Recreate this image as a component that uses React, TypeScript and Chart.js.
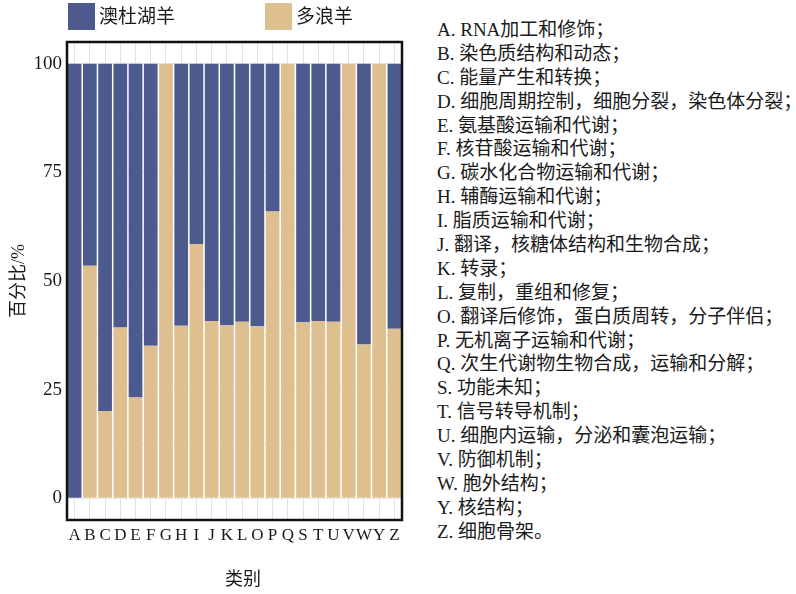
import { useEffect, useRef } from "react";
import { Chart, registerables } from "chart.js";

Chart.register(...registerables);

// COG functional categories
const categories = ["A", "B", "C", "D", "E", "F", "G", "H", "I", "J", "K", "L", "O", "P", "Q", "S", "T", "U", "V", "W", "Y", "Z"];

// Share of genes (%) per category for each breed
const duolangShare = [0, 53.5, 20.1, 39.3, 23.2, 35.1, 100, 39.7, 58.5, 40.8, 39.8, 40.6, 39.6, 66.0, 100, 40.5, 40.8, 40.6, 100, 35.4, 100, 39.0];
const aoduShare = [100, 46.5, 79.9, 60.7, 76.8, 64.9, 0, 60.3, 41.5, 59.2, 60.2, 59.4, 60.4, 34.0, 0, 59.5, 59.2, 59.4, 0, 64.6, 0, 61.0];

const seriesNames = ["澳杜湖羊", "多浪羊"];
const yTickValues = [0, 12.5, 25, 37.5, 50, 62.5, 75, 87.5, 100];

const descriptions = [
  "A. RNA加工和修饰；",
  "B. 染色质结构和动态；",
  "C. 能量产生和转换；",
  "D. 细胞周期控制，细胞分裂，染色体分裂；",
  "E. 氨基酸运输和代谢；",
  "F. 核苷酸运输和代谢；",
  "G. 碳水化合物运输和代谢；",
  "H. 辅酶运输和代谢；",
  "I. 脂质运输和代谢；",
  "J. 翻译，核糖体结构和生物合成；",
  "K. 转录；",
  "L. 复制，重组和修复；",
  "O. 翻译后修饰，蛋白质周转，分子伴侣；",
  "P. 无机离子运输和代谢；",
  "Q. 次生代谢物生物合成，运输和分解；",
  "S. 功能未知；",
  "T. 信号转导机制；",
  "U. 细胞内运输，分泌和囊泡运输；",
  "V. 防御机制；",
  "W. 胞外结构；",
  "Y. 核结构；",
  "Z. 细胞骨架。",
];

const BLUE = "#4c5a8e";
const TAN = "#ddbf90";
const TEXT = "#1a1a1a";
const FONT = "'Liberation Serif', 'Times New Roman', 'Noto Sans CJK SC', serif";

// black box drawn around the plotting panel
const panelFrame = {
  id: "panelFrame",
  afterDraw(chart: any) {
    const { ctx, chartArea: a } = chart;
    ctx.save();
    ctx.strokeStyle = "#111111";
    ctx.lineWidth = 2.5;
    ctx.strokeRect(a.left, a.top, a.right - a.left, a.bottom - a.top);
    ctx.restore();
  },
};

function BarChart() {
  const ref = useRef<HTMLCanvasElement | null>(null);

  useEffect(() => {
    if (!ref.current) return;
    const chart = new Chart(ref.current, {
      type: "bar",
      data: {
        labels: categories,
        datasets: [
          {
            label: seriesNames[1],
            data: duolangShare,
            backgroundColor: TAN,
            borderWidth: 0,
            barPercentage: 0.9,
            categoryPercentage: 1,
          },
          {
            label: seriesNames[0],
            data: aoduShare,
            backgroundColor: BLUE,
            borderWidth: 0,
            barPercentage: 0.9,
            categoryPercentage: 1,
          },
        ],
      },
      options: {
        animation: false,
        responsive: false,
        maintainAspectRatio: false,
        layout: { padding: { left: 0, top: 42, right: 8, bottom: 0 } },
        plugins: {
          legend: { display: false },
          tooltip: { enabled: false },
        },
        scales: {
          x: {
            stacked: true,
            offset: true,
            grid: { offset: false, color: "#e2e2e2", lineWidth: 1, drawTicks: false },
            border: { display: false },
            ticks: {
              color: TEXT,
              font: { family: FONT, size: 17 },
              padding: 5,
              autoSkip: false,
              maxRotation: 0,
            },
            afterFit: (scale: any) => {
              scale.height = 74;
            },
          },
          y: {
            stacked: true,
            min: -5,
            max: 105,
            afterBuildTicks: (scale: any) => {
              scale.ticks = yTickValues.map((v) => ({ value: v }));
            },
            grid: { color: "#e8e8e8", lineWidth: 1, drawTicks: false },
            border: { display: false },
            ticks: {
              color: TEXT,
              font: { family: FONT, size: 19 },
              padding: 5,
              autoSkip: false,
              callback: (v: any) => (Number(v) % 25 === 0 ? String(v) : ""),
            },
            title: {
              display: true,
              text: "百分比/%",
              color: TEXT,
              font: { family: FONT, size: 18 },
              padding: { top: 8, bottom: 0 },
            },
            afterFit: (scale: any) => {
              scale.width = 67;
            },
          },
        },
      },
      plugins: [panelFrame],
    });
    return () => chart.destroy();
  }, []);

  return (
    <canvas
      ref={ref}
      width={410}
      height={594}
      style={{ position: "absolute", left: 0, top: 0, width: 410, height: 594, display: "block" }}
    />
  );
}

export default function App() {
  const legendItems = [
    { name: seriesNames[0], color: BLUE, left: 68 },
    { name: seriesNames[1], color: TAN, left: 265 },
  ];
  return (
    <div style={{ position: "absolute", left: 0, top: 0, width: 796, height: 594, background: "#ffffff", overflow: "hidden" }}>
      <BarChart />
      {legendItems.map((it) => (
        <div key={it.name} style={{ position: "absolute", left: it.left, top: 3, height: 27, display: "flex", alignItems: "center" }}>
          <div style={{ width: 27, height: 27, background: it.color }} />
          <span style={{ marginLeft: 4, fontFamily: FONT, fontSize: 19, color: TEXT, lineHeight: "27px" }}>{it.name}</span>
        </div>
      ))}
      <div style={{ position: "absolute", left: 218, top: 566, width: 50, textAlign: "center", fontFamily: FONT, fontSize: 18, color: TEXT, lineHeight: "26px" }}>
        类别
      </div>
      <div style={{ position: "absolute", left: 437, top: 18, fontFamily: FONT, fontSize: 19, color: TEXT }}>
        {descriptions.map((d) => (
          <div key={d} style={{ height: 23.9, lineHeight: "23.9px", whiteSpace: "nowrap" }}>{d}</div>
        ))}
      </div>
    </div>
  );
}
